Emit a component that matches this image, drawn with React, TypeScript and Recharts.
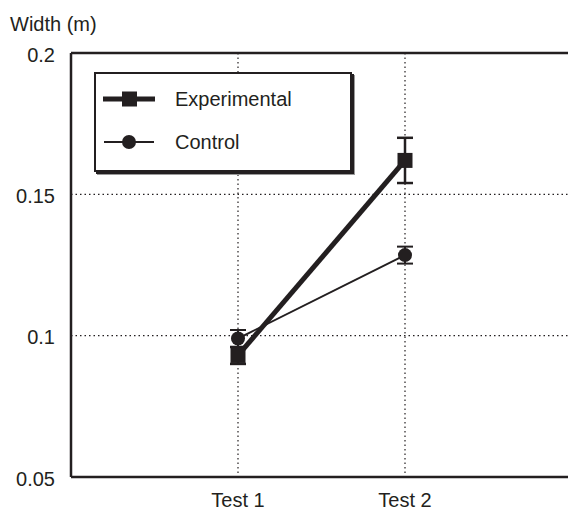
import React from 'react';
import {
    LineChart, Line, XAxis, YAxis, CartesianGrid, ErrorBar, ReferenceLine
} from 'recharts';

const categories = ['Test 1', 'Test 2'];
const experimental = [0.093, 0.162];
const experimentalErr = [0.003, 0.008];
const control = [0.099, 0.1285];
const controlErr = [0.003, 0.003];
const yTicks = [0.05, 0.1, 0.15, 0.2];

const INK = '#231f20';
const FONT = 'Liberation Sans, Arial, Helvetica, sans-serif';

const data = categories.map((name, i) => ({
    x: i + 1,
    name,
    experimental: experimental[i],
    experimentalErr: experimentalErr[i],
    control: control[i],
    controlErr: controlErr[i],
}));

const SquareDot = (props: any) => {
    const { cx, cy, index } = props;
    if (cx == null || cy == null) return <g key={`sq-${index}`} />;
    return <rect key={`sq-${index}`} x={cx - 7.5} y={cy - 7.5} width={15} height={15} fill={INK} />;
};

const CircleDot = (props: any) => {
    const { cx, cy, index } = props;
    if (cx == null || cy == null) return <g key={`ci-${index}`} />;
    return <circle key={`ci-${index}`} cx={cx} cy={cy} r={7} fill={INK} />;
};

const XTick = (props: any) => {
    const { x, y, payload } = props;
    return (
        <text x={x} y={y} dy={30} textAnchor="middle" fontSize={20} fill={INK} fontFamily={FONT}>
            {categories[payload.value - 1] ?? ''}
        </text>
    );
};

const YTick = (props: any) => {
    const { x, y, payload } = props;
    return (
        <text x={x} y={y} dy={8.5} textAnchor="end" fontSize={20} fill={INK} fontFamily={FONT}>
            {String(payload.value)}
        </text>
    );
};

// Boxed legend with a drop shadow, like the original figure
const LegendBox = () => (
    <div
        style={{
            position: 'absolute',
            left: 94,
            top: 72,
            width: 258,
            height: 100,
            border: `2px solid ${INK}`,
            boxShadow: `2px 2px 0 ${INK}, 3px 3px 0 #9a9a9a`,
            background: '#fff',
            boxSizing: 'border-box',
        }}
    >
        <svg width={254} height={96} style={{ display: 'block' }}>
            <line x1={7} x2={59} y1={25} y2={25} stroke={INK} strokeWidth={5} />
            <rect x={26} y={17.5} width={15} height={15} fill={INK} />
            <text x={79} y={25} dy={7} fontSize={20} fill={INK} fontFamily={FONT}>Experimental</text>
            <line x1={8} x2={58} y1={68} y2={68} stroke={INK} strokeWidth={2} />
            <circle cx={33} cy={68} r={7} fill={INK} />
            <text x={79} y={68} dy={7} fontSize={20} fill={INK} fontFamily={FONT}>Control</text>
        </svg>
    </div>
);

export default function App() {
    return (
        <div style={{ position: 'absolute', left: 0, top: 0, width: 568, height: 512, overflow: 'hidden', background: '#fff' }}>
            <LineChart
                width={590}
                height={512}
                data={data}
                margin={{ top: 53, right: 18, bottom: 0, left: 0 }}
            >
                <CartesianGrid stroke={INK} strokeDasharray="1.5 3" strokeWidth={1.2} />
                <XAxis
                    type="number"
                    dataKey="x"
                    domain={[0, 3]}
                    ticks={[1, 2]}
                    height={35}
                    tickSize={0}
                    tickMargin={0}
                    tick={<XTick />}
                    axisLine={{ stroke: INK, strokeWidth: 2.5 }}
                    tickLine={false}
                    allowDataOverflow
                />
                <YAxis
                    type="number"
                    domain={[0.05, 0.2]}
                    ticks={yTicks}
                    width={71}
                    tickSize={0}
                    tickMargin={16}
                    tick={<YTick />}
                    axisLine={{ stroke: INK, strokeWidth: 2.5 }}
                    tickLine={false}
                    allowDataOverflow
                />
                <ReferenceLine y={0.2} stroke={INK} strokeWidth={2.5} />
                <Line
                    dataKey="control"
                    stroke={INK}
                    strokeWidth={2}
                    dot={CircleDot}
                    activeDot={false}
                    isAnimationActive={false}
                >
                    <ErrorBar dataKey="controlErr" width={8} strokeWidth={2} stroke={INK} isAnimationActive={false} />
                </Line>
                <Line
                    dataKey="experimental"
                    stroke={INK}
                    strokeWidth={5}
                    dot={SquareDot}
                    activeDot={false}
                    isAnimationActive={false}
                >
                    <ErrorBar dataKey="experimentalErr" width={8} strokeWidth={2.5} stroke={INK} isAnimationActive={false} />
                </Line>
            </LineChart>
            <div style={{ position: 'absolute', left: 10, top: 13, fontSize: 20, color: INK, fontFamily: FONT }}>Width (m)</div>
            <LegendBox />
        </div>
    );
}
